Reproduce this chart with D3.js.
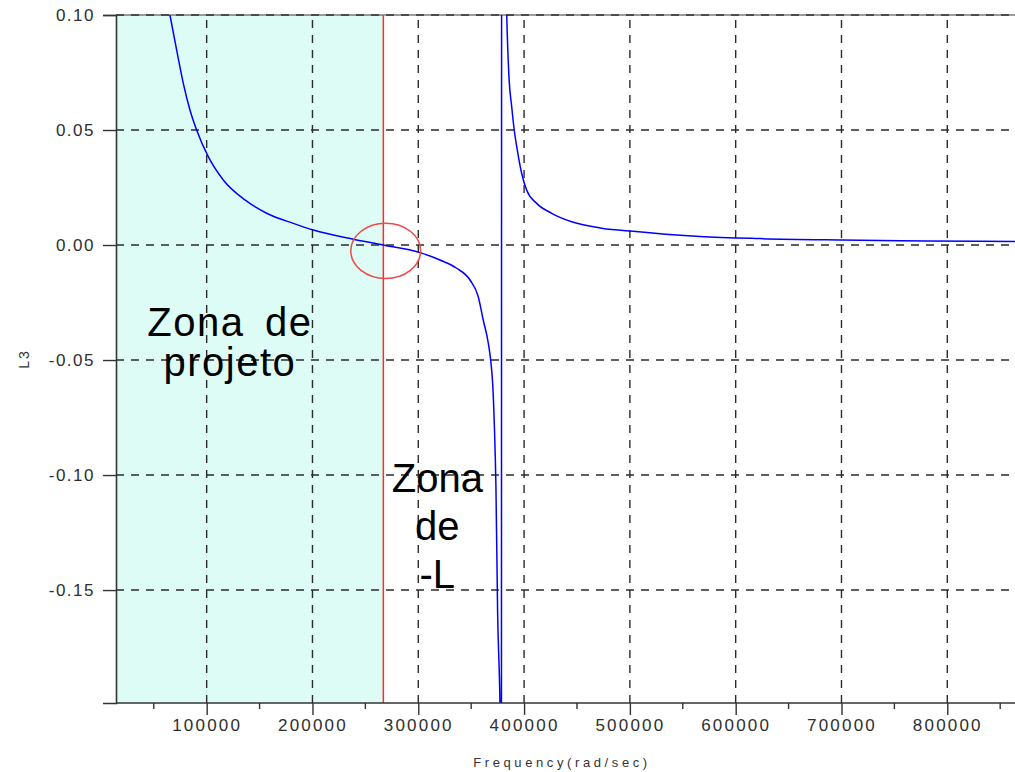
<!DOCTYPE html>
<html>
<head>
<meta charset="utf-8">
<script src="https://cdn.jsdelivr.net/npm/d3@7"></script>
<style>
  html, body { margin: 0; padding: 0; background: #ffffff; }
  svg { display: block; }
  text { font-family: "Liberation Sans", Arial, sans-serif; }
</style>
</head>
<body>
<svg id="chart" width="1015" height="772"></svg>
<script>
// L3 response versus frequency (rad/sec)
const freq = [
  65300, 71600, 77900, 84200, 90500, 101500, 115700, 136200, 156700, 181900,
  200800, 238600, 266900, 301600, 320500, 336300, 348900, 356700, 361400,
  366200, 368400, 370300, 371800, 373400, 375000, 377200, 378600,
  378800, 383600, 385700, 388300, 390700, 393600, 397700, 402400, 411900, 426100,
  445000, 473300, 508000, 523700, 566400, 623000, 700000, 780000, 864000
];
const l3 = [
  0.1000, 0.0848, 0.0703, 0.0587, 0.0500, 0.0384, 0.0283, 0.0196, 0.0138, 0.0094,
  0.0065, 0.0025, 0.0000, -0.0033, -0.0065, -0.0101, -0.0152, -0.0225, -0.0326,
  -0.0427, -0.0500, -0.0601, -0.0768, -0.1051, -0.1600, -0.1990, -0.2500,
  0.2500, 0.1000, 0.0732, 0.0601, 0.0500, 0.0413, 0.0312, 0.0239, 0.0181, 0.0138,
  0.0101, 0.0073, 0.0058, 0.0051, 0.0037, 0.0028, 0.0022, 0.0018, 0.0015
];

const xTicks = [100000, 200000, 300000, 400000, 500000, 600000, 700000, 800000];
const xMinorTicks = [50000, 150000, 250000, 350000, 450000, 550000, 650000, 750000, 850000];
const yTicks = [-0.15, -0.10, -0.05, 0.00, 0.05, 0.10];

// design-zone boundary and the marked crossing
const designLimit = 267000;
const crossing = { f: 269200, v: -0.0025, rf: 33000, rv: 0.0120 };

const annotations = [
  { lines: ["Zona de", "projeto"], f: 122000, v: -0.0395, dv: 0.0174, size: 40, letterSpacing: 1.5, wordSpacing: 8 },
  { lines: ["Zona", "de", "-L"], f: 318000, v: -0.1075, dv: 0.0208, size: 40, letterSpacing: 0, wordSpacing: 0 }
];

const svg = d3.select("#chart");
const x = d3.scaleLinear().domain([14300, 864000]).range([116, 1015]);
const y = d3.scaleLinear().domain([-0.1991, 0.1]).range([703, 15]);
const [x0, x1] = x.range();
const [y0, y1] = y.range();

svg.append("defs").append("clipPath").attr("id", "plot-clip")
  .append("rect").attr("x", x0).attr("y", y1).attr("width", x1 - x0).attr("height", y0 - y1);

// shaded design zone
svg.append("rect")
  .attr("x", x0).attr("y", y1)
  .attr("width", x(designLimit) - x0).attr("height", y0 - y1)
  .attr("fill", "#ddfcf5");

// dashed grid
const grid = svg.append("g").attr("stroke", "#2b2b2b").attr("stroke-width", 1.4)
  .attr("stroke-dasharray", "8,7");
grid.selectAll("line.v").data(xTicks).join("line").attr("class", "v")
  .attr("x1", d => x(d)).attr("x2", d => x(d)).attr("y1", y0).attr("y2", y1);
grid.selectAll("line.h").data(yTicks).join("line").attr("class", "h")
  .attr("x1", x0).attr("x2", x1).attr("y1", d => y(d)).attr("y2", d => y(d));

// top frame
svg.append("line").attr("x1", x0).attr("x2", x1).attr("y1", y1).attr("y2", y1)
  .attr("stroke", "#3a3a3a").attr("stroke-width", 1);

// boundary line
svg.append("line")
  .attr("x1", x(designLimit)).attr("x2", x(designLimit)).attr("y1", y0).attr("y2", y1)
  .attr("stroke", "#ff2a2a").attr("stroke-width", 1.5);

// curve
const line = d3.line().x(d => x(d[0])).y(d => y(d[1])).curve(d3.curveMonotoneX);
svg.append("path")
  .datum(freq.map((f, i) => [f, l3[i]]))
  .attr("clip-path", "url(#plot-clip)")
  .attr("fill", "none").attr("stroke", "#0000ff").attr("stroke-width", 1.5)
  .attr("d", line);

// marked crossing
svg.append("ellipse")
  .attr("cx", x(crossing.f)).attr("cy", y(crossing.v))
  .attr("rx", x(crossing.f + crossing.rf) - x(crossing.f))
  .attr("ry", y(crossing.v) - y(crossing.v + crossing.rv))
  .attr("fill", "none").attr("stroke", "#f04848").attr("stroke-width", 1.5);

// annotations
annotations.forEach(a => {
  a.lines.forEach((t, i) => {
    svg.append("text")
      .attr("x", x(a.f)).attr("y", y(a.v - i * a.dv))
      .attr("text-anchor", "middle")
      .attr("font-size", a.size).attr("fill", "#000")
      .attr("letter-spacing", a.letterSpacing + "px")
      .attr("word-spacing", a.wordSpacing + "px")
      .text(t);
  });
});

// axes
const fmtY = d => d3.format(".2f")(d).replace("\u2212", "-");
const xAxis = svg.append("g").attr("transform", `translate(0,${y0})`)
  .call(d3.axisBottom(x).tickValues(xTicks).tickSize(12).tickPadding(4).tickFormat(d3.format("d")));
xAxis.append("g").selectAll("line").data(xMinorTicks).join("line")
  .attr("x1", d => x(d)).attr("x2", d => x(d)).attr("y1", 0).attr("y2", 6)
  .attr("stroke", "#333").attr("stroke-width", 1.4);

const yAxis = svg.append("g").attr("transform", `translate(${x0},0)`)
  .call(d3.axisLeft(y).tickValues(yTicks).tickSize(13).tickPadding(8).tickFormat(fmtY));

[xAxis, yAxis].forEach(g => {
  g.select(".domain").attr("stroke", "#333").attr("stroke-width", 1.6);
  g.selectAll(".tick line").attr("stroke", "#333").attr("stroke-width", 1.4);
  g.selectAll(".tick text").attr("fill", "#2e2e2e").attr("font-size", 17)
    .attr("font-family", "'Liberation Sans', Arial, sans-serif");
});
xAxis.selectAll(".tick text").attr("letter-spacing", "2.2px");
yAxis.selectAll(".tick text").attr("letter-spacing", "1.5px");
xAxis.select(".domain").attr("d", `M${x0},0H${x1}`);

// axis titles
svg.append("text")
  .attr("x", 562).attr("y", 767)
  .attr("text-anchor", "middle").attr("font-size", 13).attr("fill", "#333")
  .attr("letter-spacing", "3.6px")
  .text("Frequency(rad/sec)");
svg.append("text")
  .attr("transform", "translate(29,359) rotate(-90)")
  .attr("text-anchor", "middle").attr("font-size", 14).attr("fill", "#333")
  .attr("letter-spacing", "2px")
  .text("L3");
</script>
</body>
</html>
